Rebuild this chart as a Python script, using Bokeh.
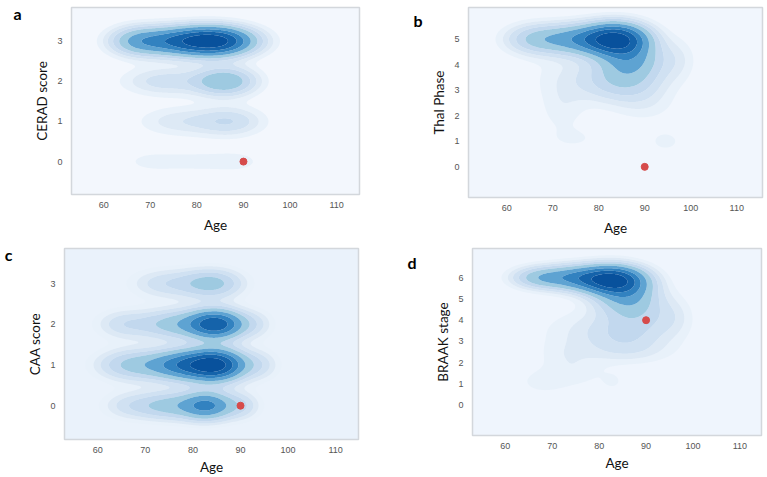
import numpy as np
from bokeh.plotting import figure
from bokeh.layouts import column, row
from bokeh.models import Range1d, FixedTicker, LinearAxis
from bokeh.embed import file_html
from bokeh.resources import INLINE

# ---------------- data ----------------
AGE_TICKS = [60, 70, 80, 90, 100, 110]

# density components: age centre, score centre, age spread, score spread, peak height
a_age = [84, 75, 67, 86, 73, 87, 76, 70, 80, 89]
a_score = [3, 3, 3, 2, 2, 1, 1, 0, 0, 0]
a_age_sd = [5.5, 6, 4, 4.5, 6, 5, 6, 5, 5, 4.5]
a_score_sd = [0.24, 0.24, 0.24, 0.24, 0.24, 0.25, 0.25, 0.22, 0.22, 0.22]
a_peak = [1.0, 0.55, 0.28, 0.38, 0.15, 0.17, 0.1, 0.05, 0.045, 0.05]

b_age = [84, 76, 66, 87, 86, 78, 97, 90, 72, 75, 94.5]
b_score = [5, 5, 5, 4.2, 3.3, 3.5, 4.2, 2.4, 2.2, 1.1, 1]
b_age_sd = [4.5, 6, 4.5, 4.5, 5.5, 8, 3, 5, 3.5, 4, 2.3]
b_score_sd = [0.42, 0.4, 0.4, 0.5, 0.5, 0.7, 0.6, 0.5, 0.7, 0.3, 0.27]
b_peak = [1.0, 0.5, 0.24, 0.4, 0.2, 0.1, 0.08, 0.06, 0.06, 0.045, 0.07]

c_age = [84, 74, 85, 77, 65, 93, 85, 78, 67, 94, 83, 75, 90, 66]
c_score = [3, 3, 2, 2, 2, 2, 1, 1, 1, 1, 0, 0, 0, 0]
c_age_sd = [4.5, 5, 3.8, 6, 4, 3, 4, 5, 5, 3, 3.5, 5, 3, 4]
c_score_sd = [0.25, 0.25, 0.24, 0.25, 0.25, 0.25, 0.26, 0.25, 0.26, 0.26, 0.24, 0.24, 0.24, 0.24]
c_peak = [0.28, 0.14, 0.72, 0.3, 0.12, 0.1, 0.85, 0.58, 0.25, 0.12, 0.5, 0.28, 0.15, 0.1]

d_age = [83, 75, 67, 86, 89, 86, 80, 96, 72, 68, 76, 83, 86]
d_score = [5.9, 6, 6, 5.1, 4.2, 3.3, 3.6, 4.2, 2.3, 1.1, 1.5, 1.1, 2.5]
d_age_sd = [4.5, 5, 4, 4.5, 4.5, 6, 9, 3, 4, 4, 4, 2, 7]
d_score_sd = [0.45, 0.4, 0.35, 0.6, 0.55, 0.6, 0.7, 0.7, 0.6, 0.45, 0.5, 0.35, 0.45]
d_peak = [1.0, 0.5, 0.28, 0.4, 0.1, 0.12, 0.08, 0.07, 0.05, 0.06, 0.05, 0.045, 0.07]

# highlighted case (red dot) in each panel
case_age = [90, 90, 90, 90]
case_score = [0, 0, 0, 4]

score_labels = ["CERAD score", "Thal Phase", "CAA score", "BRAAK stage"]
score_ticks = [[0, 1, 2, 3], [0, 1, 2, 3, 4, 5], [0, 1, 2, 3], [0, 1, 2, 3, 4, 5, 6]]
panel_letters = ["a", "b", "c", "d"]

# ---------------- styling ----------------
LEVELS = [0.035, 0.065, 0.1, 0.15, 0.22, 0.33, 0.47, 0.62, 0.8, 1.01]
BAND_COLORS = ["#e8f1fa", "#dde9f5", "#d0e1f2", "#c2d8ee", "#9ecae1",
               "#5ea3d2", "#3282c0", "#1563aa", "#08519c"]


def density(xs, ys, ages, scores, asd, ssd, peaks):
    X, Y = np.meshgrid(xs, ys)
    Z = np.zeros_like(X)
    for ax, sy, sa, ss, pk in zip(ages, scores, asd, ssd, peaks):
        Z += pk * np.exp(-((X - ax) ** 2) / (2 * sa ** 2) - ((Y - sy) ** 2) / (2 * ss ** 2))
    return Z / Z.max()


def panel(idx, comps, xr, yr, frame_w, frame_h, borders, bg, x_label_standoff,
          letter_standoff, letter_drop):
    bl, br, bt, bb = borders
    p = figure(frame_width=frame_w, frame_height=frame_h,
               min_border_left=bl, min_border_right=br,
               min_border_top=bt, min_border_bottom=bb,
               x_range=Range1d(*xr), y_range=Range1d(*yr),
               output_backend="svg", toolbar_location=None)
    xs = np.linspace(xr[0], xr[1], 260)
    ys = np.linspace(yr[0], yr[1], 220)
    z = density(xs, ys, *comps)
    p.contour(x=xs, y=ys, z=z, levels=LEVELS, fill_color=BAND_COLORS, line_color=None)
    p.scatter(x=[case_age[idx]], y=[case_score[idx]], size=7,
              fill_color="#d64b4b", line_color="#d64b4b")

    p.background_fill_color = bg
    p.border_fill_color = "white"
    p.outline_line_color = "#d3d7dc"
    p.outline_line_width = 1.5
    p.grid.visible = False

    p.xaxis.ticker = FixedTicker(ticks=AGE_TICKS)
    p.yaxis.ticker = FixedTicker(ticks=score_ticks[idx])
    p.xaxis.axis_label = "Age"
    p.yaxis.axis_label = score_labels[idx]
    for ax in (p.xaxis[0], p.yaxis[0]):
        ax.axis_line_color = None
        ax.major_tick_line_color = None
        ax.minor_tick_line_color = None
        ax.major_tick_out = 0
        ax.major_tick_in = 0
        ax.major_label_text_font = "Liberation Sans"
        ax.major_label_text_font_size = "9px"
        ax.major_label_text_color = "#555555"
        ax.axis_label_text_font = "Lato"
        ax.axis_label_text_font_size = "13.5px"
        ax.axis_label_text_font_style = "normal"
        ax.axis_label_text_color = "#111111"
    p.xaxis.major_label_standoff = 7
    p.xaxis.axis_label_standoff = x_label_standoff
    p.yaxis.major_label_standoff = 9
    p.yaxis.axis_label_standoff = 4

    # panel letter, drawn as the label of an extra, tick-less axis at the far left;
    # the leading empty line (with a chosen line height) drops it below the frame top
    letter_axis = LinearAxis(ticker=FixedTicker(ticks=[]), axis_line_color=None,
                             major_tick_line_color=None, minor_tick_line_color=None,
                             major_label_text_font_size="0px",
                             axis_label="\n" + panel_letters[idx],
                             axis_label_text_font="Lato",
                             axis_label_text_font_style="bold",
                             axis_label_text_font_size="16px",
                             axis_label_text_color="black",
                             axis_label_text_line_height=letter_drop,
                             axis_label_standoff=letter_standoff)
    try:
        letter_axis.axis_label_orientation = "horizontal"
    except Exception:
        pass
    try:
        letter_axis.axis_label_align = "end"
    except Exception:
        pass
    p.add_layout(letter_axis, "left")
    return p


pa = panel(0, (a_age, a_score, a_age_sd, a_score_sd, a_peak),
           (53.1, 114.9), (-0.82, 3.84), 288, 187, (71, 21, 7, 46), "#f3f7fd", 6, 10, 0.6)
pb = panel(1, (b_age, b_score, b_age_sd, b_score_sd, b_peak),
           (51.7, 115.6), (-1.2, 6.24), 294, 190, (88, 4, 4, 46), "#f1f6fd", 6, 6, 1.4)
pc = panel(2, (c_age, c_score, c_age_sd, c_score_sd, c_peak),
           (53.0, 114.8), (-0.83, 3.86), 294, 191, (64, 22, 5, 38), "#eaf2fb", 3, 12, 0.6)
pd = panel(3, (d_age, d_score, d_age_sd, d_score_sd, d_peak),
           (53.0, 114.6), (-1.42, 7.37), 289, 187, (92, 5, 8, 38), "#eff5fd", 3, 16, 1.5)

layout = column(row(pa, pb), row(pc, pd))

open("out.html", "w").write(file_html(layout, INLINE))
